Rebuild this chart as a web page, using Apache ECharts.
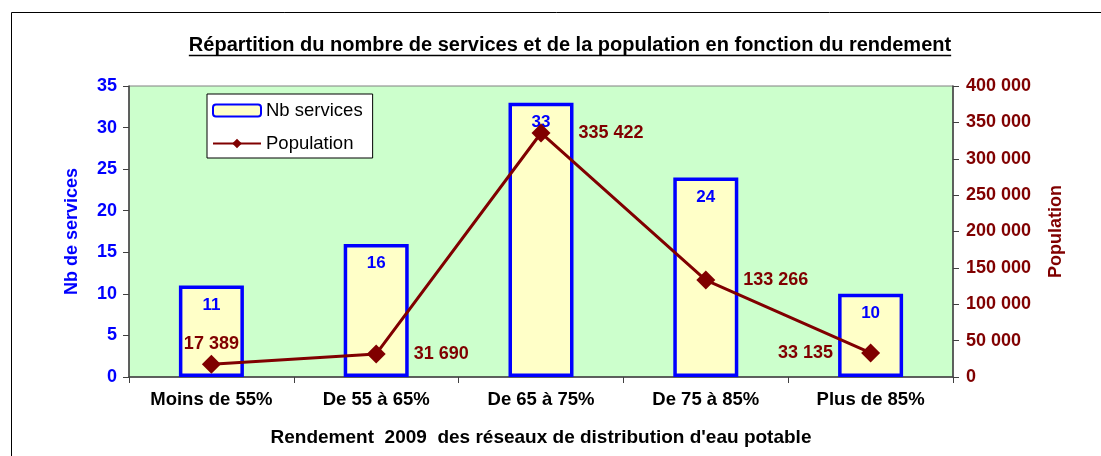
<!DOCTYPE html>
<html>
    <head>
        <meta charset="UTF-8" />
        <script src="https://cdn.jsdelivr.net/npm/echarts@6/dist/echarts.min.js"></script>
    </head>
    <body style="margin:0">
        <div id="main" style="width: 1101px; height: 456px"></div>
        <script type="text/javascript">
            var categories = ['Moins de 55%', 'De 55 à 65%', 'De 65 à 75%', 'De 75 à 85%', 'Plus de 85%'];
            var nbServices = [11, 16, 33, 24, 10];
            var population = [17389, 31690, 335422, 133266, 33135];

            var FONT = '"Liberation Sans", Arial, sans-serif';
            var BLUE = '#0000FF';
            var RED = '#800000';
            var titleText = 'Répartition du nombre de services et de la population en fonction du rendement';
            var titleFont = 'bold 20px ' + FONT;

            // largeur du titre pour le soulignement
            var ctx = document.createElement('canvas').getContext('2d');
            ctx.font = titleFont;
            var titleW = ctx.measureText(titleText).width;
            var titleX = 570;

            function spaced(v) {
                return String(v).replace(/\B(?=(\d{3})+(?!\d))/g, ' ');
            }

            // position des étiquettes population, comme dans Excel
            var popPos = ['top', 'right', 'right', 'right', 'left'];

            var myChart = echarts.init(document.getElementById('main'));
            var option = {
                animation: false,
                textStyle: { fontFamily: FONT },
                graphic: [
                    {
                        type: 'rect',
                        shape: { x: 11.5, y: 12.5, width: 1100, height: 460 },
                        style: { fill: 'none', stroke: '#000', lineWidth: 1 }
                    },
                    {
                        type: 'text',
                        x: titleX,
                        y: 45,
                        style: {
                            text: titleText,
                            font: titleFont,
                            fill: '#000',
                            align: 'center',
                            verticalAlign: 'middle',
                            textAlign: 'center',
                            textVerticalAlign: 'middle'
                        }
                    },
                    {
                        type: 'line',
                        shape: { x1: titleX - titleW / 2, y1: 55.5, x2: titleX + titleW / 2, y2: 55.5 },
                        style: { stroke: '#000', lineWidth: 1.5 }
                    }
                ],
                legend: {
                    orient: 'vertical',
                    left: 207,
                    top: 94,
                    itemWidth: 48,
                    itemHeight: 12,
                    itemGap: 14,
                    padding: [7, 10, 5, 5],
                    backgroundColor: '#fff',
                    borderColor: '#000',
                    borderWidth: 1,
                    textStyle: { fontFamily: FONT, fontSize: 18.5, color: '#000' },
                    data: ['Nb services', 'Population']
                },
                grid: {
                    left: 129,
                    right: 148,
                    top: 86,
                    bottom: 79,
                    show: true,
                    backgroundColor: '#CCFFCC',
                    borderColor: '#808080',
                    borderWidth: 1
                },
                xAxis: {
                    type: 'category',
                    data: categories,
                    name: 'Rendement  2009  des réseaux de distribution d\'eau potable',
                    nameLocation: 'middle',
                    nameGap: 51,
                    nameTextStyle: { fontFamily: FONT, fontSize: 19, fontWeight: 'bold', color: '#000' },
                    axisLine: { lineStyle: { color: '#404040', width: 1.5 } },
                    axisTick: { show: true, length: 6, lineStyle: { color: '#404040' } },
                    axisLabel: { fontFamily: FONT, fontSize: 18.5, fontWeight: 'bold', color: '#000', margin: 13, interval: 0 }
                },
                yAxis: [
                    {
                        type: 'value',
                        min: 0,
                        max: 35,
                        interval: 5,
                        name: 'Nb de services',
                        nameLocation: 'middle',
                        nameRotate: 90,
                        nameGap: 48,
                        nameTextStyle: { fontFamily: FONT, fontSize: 18, fontWeight: 'bold', color: BLUE },
                        axisLine: { show: true, lineStyle: { color: '#404040', width: 1.5 } },
                        axisTick: { show: true, length: 6, lineStyle: { color: '#404040' } },
                        axisLabel: { fontFamily: FONT, fontSize: 18, fontWeight: 'bold', color: BLUE, margin: 12 },
                        splitLine: { show: false }
                    },
                    {
                        type: 'value',
                        min: 0,
                        max: 400000,
                        interval: 50000,
                        position: 'right',
                        name: 'Population',
                        nameLocation: 'middle',
                        nameRotate: 90,
                        nameGap: 94,
                        nameTextStyle: { fontFamily: FONT, fontSize: 18, fontWeight: 'bold', color: RED },
                        axisLine: { show: true, lineStyle: { color: '#404040', width: 1.5 } },
                        axisTick: { show: true, length: 6, lineStyle: { color: '#404040' } },
                        axisLabel: {
                            fontFamily: FONT, fontSize: 18, fontWeight: 'bold', color: RED, margin: 13,
                            formatter: spaced
                        },
                        splitLine: { show: false }
                    }
                ],
                series: [
                    {
                        name: 'Nb services',
                        type: 'bar',
                        yAxisIndex: 0,
                        barWidth: 65,
                        data: nbServices,
                        itemStyle: { color: '#FFFFC8', borderColor: BLUE, borderWidth: 3.5 },
                        label: {
                            show: true,
                            position: 'insideTop',
                            distance: 11,
                            fontFamily: FONT,
                            fontSize: 17,
                            fontWeight: 'bold',
                            color: BLUE
                        }
                    },
                    {
                        name: 'Population',
                        type: 'line',
                        yAxisIndex: 1,
                        symbol: 'diamond',
                        symbolSize: 19,
                        lineStyle: { color: RED, width: 3 },
                        itemStyle: { color: RED },
                        data: population.map(function (v, i) {
                            return {
                                value: v,
                                label: {
                                    position: popPos[i],
                                    distance: popPos[i] === 'top' ? 2 : 28
                                }
                            };
                        }),
                        label: {
                            show: true,
                            fontFamily: FONT,
                            fontSize: 18,
                            fontWeight: 'bold',
                            color: RED,
                            formatter: function (p) { return spaced(p.value); }
                        },
                        z: 3
                    }
                ]
            };

            option && myChart.setOption(option);
        </script>
    </body>
</html>
